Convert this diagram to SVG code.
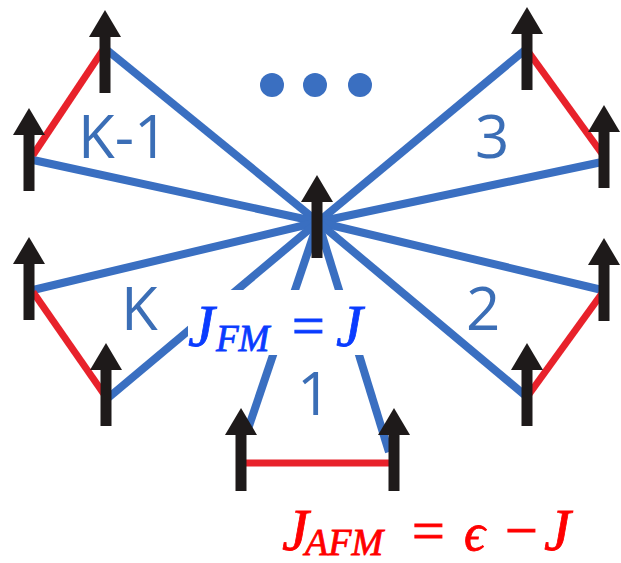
<svg xmlns="http://www.w3.org/2000/svg" width="621" height="563" viewBox="0 0 621 563">
<defs>
<style>
.fm{stroke:#3a6fc1;stroke-width:8;stroke-linecap:butt;fill:none}
.afm{stroke:#e8222b;stroke-width:7;fill:none}
.lbl{font-family:"Open Sans","Noto Sans",sans-serif;font-size:60px;fill:#3b6eb6}
.mb{font-family:"Liberation Serif","DejaVu Serif",serif;font-style:italic;fill:#0a3cff;stroke:#0a3cff;stroke-width:0.8}
.mr{font-family:"Liberation Serif","DejaVu Serif",serif;font-style:italic;fill:#ff0000;stroke:#ff0000;stroke-width:0.8}
.ob{font-family:"Liberation Serif","DejaVu Serif",serif;fill:#0a3cff;stroke:#0a3cff;stroke-width:1}
.or{font-family:"Liberation Serif","DejaVu Serif",serif;fill:#ff0000;stroke:#ff0000;stroke-width:1}
.up{fill:#1e1a1a}
</style>
<g id="spin"><polygon class="up" points="-16,27 0,0 16,27"/><rect class="up" x="-5.5" y="25" width="11" height="58"/></g>
</defs>
<rect width="621" height="563" fill="#ffffff"/>
<g id="connectors">
<line class="fm" x1="318" y1="222" x2="107" y2="50"/>
<line class="fm" x1="318" y1="222" x2="33" y2="160"/>
<line class="fm" x1="318" y1="222" x2="525" y2="50"/>
<line class="fm" x1="318" y1="222" x2="602" y2="162"/>
<line class="fm" x1="318" y1="222" x2="33" y2="290"/>
<line class="fm" x1="318" y1="222" x2="108" y2="398"/>
<line class="fm" x1="318" y1="222" x2="247" y2="432"/>
<line class="fm" x1="318" y1="222" x2="389" y2="452"/>
<line class="fm" x1="318" y1="222" x2="602" y2="290"/>
<line class="fm" x1="318" y1="222" x2="527" y2="397"/>
<line class="afm" x1="103" y1="50" x2="33" y2="155"/>
<line class="afm" x1="527" y1="50" x2="603" y2="155"/>
<line class="afm" x1="33" y1="292" x2="106" y2="397"/>
<line class="afm" x1="603" y1="292" x2="527" y2="397"/>
<line class="afm" x1="243" y1="463" x2="392" y2="463"/>
</g>
<g id="dots" fill="#3a6fc1"><circle cx="272" cy="85" r="12"/><circle cx="315" cy="85" r="12"/><circle cx="360" cy="85" r="12"/></g>
<g id="center"><use href="#spin" x="317" y="175"/></g>
<g id="s1"><use href="#spin" x="105" y="10"/></g>
<g id="s2"><use href="#spin" x="29" y="108"/></g>
<g id="s3"><use href="#spin" x="527" y="7"/></g>
<g id="s4"><use href="#spin" x="604" y="105"/></g>
<g id="s5"><use href="#spin" x="29" y="237"/></g>
<g id="s6"><use href="#spin" x="106" y="343"/></g>
<g id="s7"><use href="#spin" x="241" y="408"/></g>
<g id="s8"><use href="#spin" x="394" y="408"/></g>
<g id="s9"><use href="#spin" x="604" y="238"/></g>
<g id="s10"><use href="#spin" x="527" y="343"/></g>
<g id="labels">
<text class="lbl" x="78" y="158">K-1</text>
<text class="lbl" x="475" y="158">3</text>
<text class="lbl" x="121" y="330">K</text>
<text class="lbl" x="466" y="330">2</text>
<text class="lbl" x="297" y="415">1</text>
</g>
<g id="jfm">
<rect x="188" y="290" width="184" height="65" fill="#ffffff"/>
<text class="mb" x="188" y="346" font-size="60">J</text>
<text class="mb" x="216" y="351" font-size="37">FM</text>
<text class="ob" x="292" y="345" font-size="58">=</text>
<text class="mb" x="336" y="346" font-size="60">J</text>
</g>
<g id="jafm">
<text class="mr" x="282" y="550" font-size="60">J</text>
<text class="mr" x="305" y="555" font-size="38">AFM</text>
<text class="or" x="412" y="550" font-size="58">=</text>
<text class="mr" x="464" y="550" font-size="52">ϵ</text>
<text class="or" x="505" y="550" font-size="58">−</text>
<text class="mr" x="544" y="550" font-size="60">J</text>
</g>
</svg>
